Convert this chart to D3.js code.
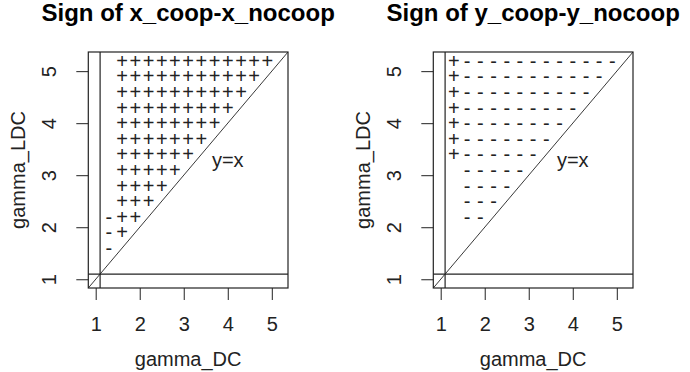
<!DOCTYPE html>
<html>
<head>
<meta charset="utf-8">
<script src="https://cdn.jsdelivr.net/npm/d3@7"></script>
<style>
  html, body { margin: 0; padding: 0; background: #fff; }
  svg { display: block; font-family: 'Liberation Sans', Arial, sans-serif; }
</style>
</head>
<body>
<div id="chart"></div>
<script>
// grid values of the two parameters (same grid on both axes)
const gammaDC  = [1.0, 1.3, 1.6, 1.9, 2.2, 2.5, 2.8, 3.1, 3.4, 3.7, 4.0, 4.3, 4.6, 4.9, 5.2];
const gammaLDC = [1.0, 1.3, 1.6, 1.9, 2.2, 2.5, 2.8, 3.1, 3.4, 3.7, 4.0, 4.3, 4.6, 4.9, 5.2];
const xTicks = [1, 2, 3, 4, 5];
const yTicks = [1, 2, 3, 4, 5];
const cutoffDC = 1.1;
const cutoffLDC = 1.1;
const diagLabel = { x: 4.0, y: 3.3, text: 'y=x' };

// one string per gammaLDC row (bottom -> top), one char per gammaDC column, '.' = nothing
const signX = [
  '...............',
  '...............',
  '.-.............',
  '.-+............',
  '.-++...........',
  '..+++..........',
  '..++++.........',
  '..+++++........',
  '..++++++.......',
  '..+++++++......',
  '..++++++++.....',
  '..+++++++++....',
  '..++++++++++...',
  '..+++++++++++..',
  '..++++++++++++.'
];
const signY = [
  '...............',
  '...............',
  '...............',
  '...............',
  '..--...........',
  '..---..........',
  '..----.........',
  '..-----........',
  '.+------.......',
  '.+-------......',
  '.+--------.....',
  '.+---------....',
  '.+----------...',
  '.+-----------..',
  '.+------------.'
];
const panels = [
  { title: 'Sign of x_coop-x_nocoop', signs: signX },
  { title: 'Sign of y_coop-y_nocoop', signs: signY }
];

const W = 690, H = 372, panelW = 345;
const box = { left: 88.3, right: 288, top: 52, bottom: 288 };
const ink = '#222';

// R style axis range: data range plus 4% on each side
const usr = (lo, hi) => { const d = (hi - lo) * 0.04; return [lo - d, hi + d]; };

const svg = d3.select('#chart').append('svg')
  .attr('width', W).attr('height', H);

panels.forEach((p, k) => {
  const ox = k * panelW;
  const xDom = usr(d3.min(gammaDC), d3.max(gammaDC));
  const yDom = usr(d3.min(gammaLDC), d3.max(gammaLDC));
  const x = d3.scaleLinear().domain(xDom).range([ox + box.left, ox + box.right]);
  const y = d3.scaleLinear().domain(yDom).range([box.bottom, box.top]);

  const g = svg.append('g');

  // Title
  g.append('text')
    .attr('x', (x.range()[0] + x.range()[1]) / 2)
    .attr('y', 21)
    .attr('text-anchor', 'middle')
    .attr('font-size', '24px')
    .attr('font-weight', 'bold')
    .attr('fill', '#000')
    .text(p.title);

  // Axes
  const xa = g.append('g')
    .attr('transform', `translate(0,${box.bottom})`)
    .call(d3.axisBottom(x).tickValues(xTicks).tickSize(12).tickSizeOuter(0).tickFormat(d3.format('d')));
  xa.select('.domain').remove();
  xa.selectAll('line').attr('stroke', ink);
  xa.selectAll('text')
    .attr('y', 43).attr('dy', null)
    .attr('font-size', '20px').attr('font-family', null).attr('fill', ink);

  const ya = g.append('g')
    .attr('transform', `translate(${ox + box.left},0)`)
    .call(d3.axisLeft(y).tickValues(yTicks).tickSize(12).tickSizeOuter(0).tickFormat(d3.format('d')));
  ya.select('.domain').remove();
  ya.selectAll('line').attr('stroke', ink);
  ya.selectAll('text')
    .attr('x', null).attr('dy', null)
    .attr('transform', 'translate(-32,0) rotate(-90)')
    .attr('text-anchor', 'middle')
    .attr('font-size', '20px').attr('font-family', null).attr('fill', ink);

  // Axis titles
  g.append('text')
    .attr('x', (x.range()[0] + x.range()[1]) / 2)
    .attr('y', 366)
    .attr('text-anchor', 'middle')
    .attr('font-size', '20px')
    .attr('fill', ink)
    .text('gamma_DC');

  g.append('text')
    .attr('transform', `translate(${ox + 25},${(box.top + box.bottom) / 2}) rotate(-90)`)
    .attr('text-anchor', 'middle')
    .attr('font-size', '20px')
    .attr('fill', ink)
    .text('gamma_LDC');

  // Reference lines: v = 1.1, h = 1.1, y = x
  g.append('line')
    .attr('x1', x(cutoffDC)).attr('x2', x(cutoffDC))
    .attr('y1', y(yDom[0])).attr('y2', y(yDom[1]))
    .attr('stroke', ink).attr('stroke-width', 1.2);
  g.append('line')
    .attr('x1', x(xDom[0])).attr('x2', x(xDom[1]))
    .attr('y1', y(cutoffLDC)).attr('y2', y(cutoffLDC))
    .attr('stroke', ink).attr('stroke-width', 1.2);
  g.append('line')
    .attr('x1', x(Math.max(xDom[0], yDom[0]))).attr('y1', y(Math.max(xDom[0], yDom[0])))
    .attr('x2', x(Math.min(xDom[1], yDom[1]))).attr('y2', y(Math.min(xDom[1], yDom[1])))
    .attr('stroke', ink).attr('stroke-width', 0.9);

  // Sign marks
  const cells = [];
  p.signs.forEach((row, i) => {
    row.split('').forEach((c, j) => {
      if (c !== '.') cells.push({ dc: gammaDC[j], ldc: gammaLDC[i], s: c });
    });
  });
  g.selectAll('.sign')
    .data(cells)
    .join('text')
    .attr('class', 'sign')
    .attr('x', d => x(d.dc))
    .attr('y', d => y(d.ldc))
    .attr('dy', '0.35em')
    .attr('text-anchor', 'middle')
    .attr('font-size', '20px')
    .attr('fill', ink)
    .text(d => d.s);

  g.append('text')
    .attr('x', x(diagLabel.x))
    .attr('y', y(diagLabel.y))
    .attr('dy', '0.35em')
    .attr('text-anchor', 'middle')
    .attr('font-size', '20px')
    .attr('fill', ink)
    .text(diagLabel.text);

  // Box
  g.append('rect')
    .attr('x', ox + box.left).attr('y', box.top)
    .attr('width', box.right - box.left).attr('height', box.bottom - box.top)
    .attr('fill', 'none').attr('stroke', ink).attr('stroke-width', 1.2);
});
</script>
</body>
</html>
